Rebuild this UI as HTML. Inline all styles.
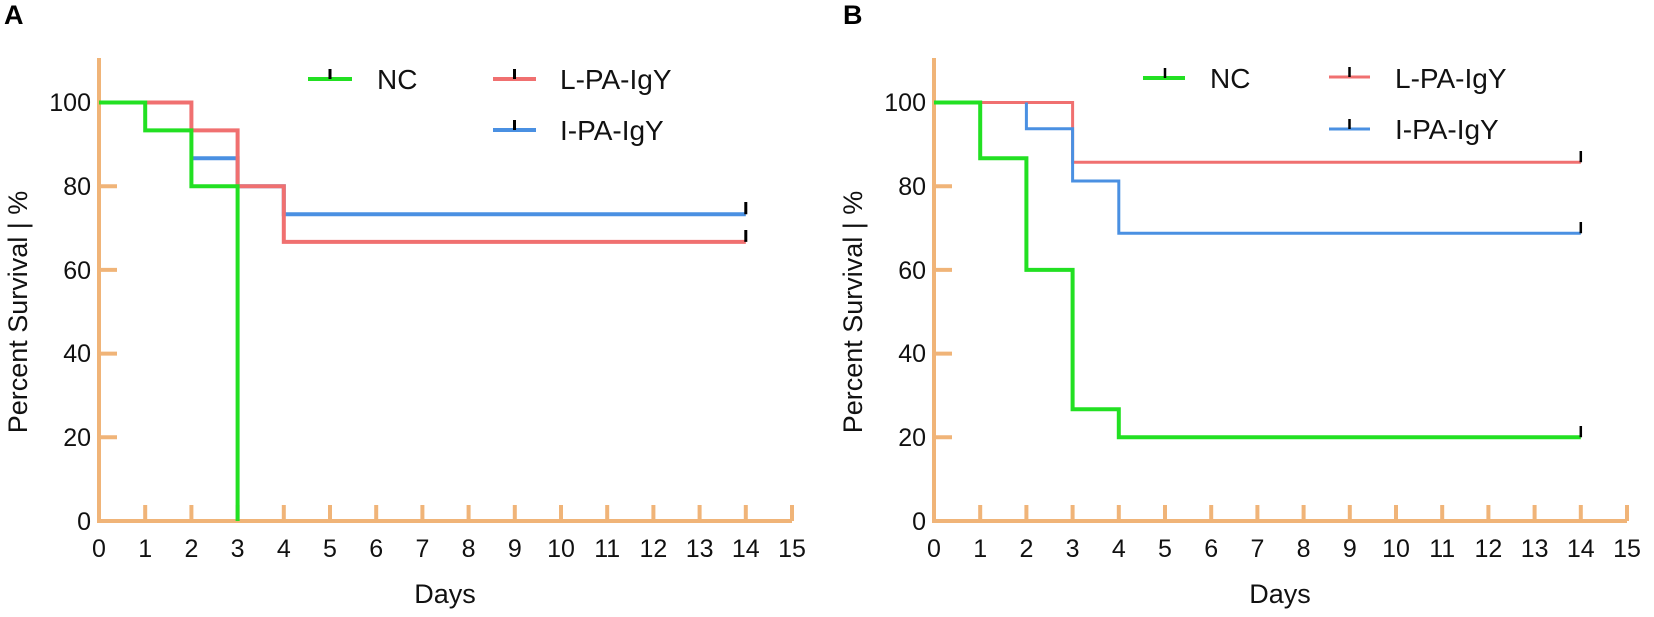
<!DOCTYPE html>
<html><head><meta charset="utf-8"><style>
html,body{margin:0;padding:0;background:#fff;}
svg{display:block;font-family:"Liberation Sans",Arial,sans-serif;}
</style></head><body>
<svg width="1654" height="617" viewBox="0 0 1654 617" xmlns="http://www.w3.org/2000/svg">
<defs>
<g id="axes">
  <g stroke="#f0b478" stroke-width="4" fill="none">
    <line x1="0" y1="58" x2="0" y2="523"/>
    <line x1="-2" y1="521" x2="693" y2="521"/>
    <line x1="0" y1="102.5" x2="18" y2="102.5"/>
    <line x1="0" y1="186.2" x2="18" y2="186.2"/>
    <line x1="0" y1="269.9" x2="18" y2="269.9"/>
    <line x1="0" y1="353.6" x2="18" y2="353.6"/>
    <line x1="0" y1="437.3" x2="18" y2="437.3"/>
    <path d="M46.2 521V505M92.4 521V505M138.6 521V505M184.8 521V505M231 521V505M277.2 521V505M323.4 521V505M369.6 521V505M415.8 521V505M462 521V505M508.2 521V505M554.4 521V505M600.6 521V505M646.8 521V505M693 521V505"/>
  </g>
  <g font-size="25" fill="#111" text-anchor="end">
    <text x="-8" y="111">100</text>
    <text x="-8" y="195">80</text>
    <text x="-8" y="279">60</text>
    <text x="-8" y="362">40</text>
    <text x="-8" y="446">20</text>
    <text x="-8" y="530">0</text>
  </g>
  <g font-size="25" fill="#111" text-anchor="middle">
    <text x="0" y="557">0</text><text x="46.2" y="557">1</text><text x="92.4" y="557">2</text><text x="138.6" y="557">3</text><text x="184.8" y="557">4</text><text x="231" y="557">5</text><text x="277.2" y="557">6</text><text x="323.4" y="557">7</text><text x="369.6" y="557">8</text><text x="415.8" y="557">9</text><text x="462" y="557">10</text><text x="508.2" y="557">11</text><text x="554.4" y="557">12</text><text x="600.6" y="557">13</text><text x="646.8" y="557">14</text><text x="693" y="557">15</text>
    <text x="346" y="603" font-size="27">Days</text>
    <text transform="translate(-72,312) rotate(-90)" font-size="27">Percent Survival | %</text>
  </g>
</g>
</defs>

<!-- Panel A -->
<text x="4" y="24" font-size="27" font-weight="bold" fill="#000">A</text>
<g transform="translate(99,0)">
  <use href="#axes"/>
  <path d="M92.4 158.3H138.6V186.2H184.8V214.3H646.8" stroke="#4a90e2" stroke-width="4" fill="none"/>
  <path d="M0 102.5H92.4V130.4H138.6V186.2H184.8V241.9H646.8" stroke="#f07070" stroke-width="4" fill="none"/>
  <path d="M0 102.5H46.2V130.4H92.4V186.2H138.6V521" stroke="#22e022" stroke-width="4" fill="none"/>
  <path d="M646.8 241.9V230M646.8 214.3V202" stroke="#000" stroke-width="3"/>
  <g stroke-width="4">
    <line x1="209" y1="79" x2="253" y2="79" stroke="#22e022"/>
    <line x1="394" y1="79" x2="437" y2="79" stroke="#f07070"/>
    <line x1="394" y1="130" x2="437" y2="130" stroke="#4a90e2"/>
  </g>
  <path d="M231 79V69M415.5 79V69M415.5 130V120" stroke="#000" stroke-width="3"/>
  <g font-size="28" fill="#111">
    <text x="278" y="89">NC</text>
    <text x="461" y="89">L-PA-IgY</text>
    <text x="461" y="140">I-PA-IgY</text>
  </g>
</g>

<!-- Panel B -->
<text x="843" y="24" font-size="27" font-weight="bold" fill="#000">B</text>
<g transform="translate(934,0)">
  <use href="#axes"/>
  <path d="M0 102.5H138.6V162.3H646.8" stroke="#f07070" stroke-width="3" fill="none"/>
  <path d="M92.4 102.5V128.7H138.6V181H184.8V233.3H646.8" stroke="#4a90e2" stroke-width="3" fill="none"/>
  <path d="M0 102.5H46.2V158.3H92.4V269.9H138.6V409.3H184.8V437.3H646.8" stroke="#22e022" stroke-width="4" fill="none"/>
  <path d="M646.8 162.3V151M646.8 233.3V222M646.8 437.3V426" stroke="#000" stroke-width="2.5"/>
  <g stroke-width="4">
    <line x1="209" y1="78" x2="251" y2="78" stroke="#22e022"/>
    <line x1="395" y1="77" x2="436" y2="77" stroke="#f07070" stroke-width="3"/>
    <line x1="395" y1="129" x2="436" y2="129" stroke="#4a90e2" stroke-width="3"/>
  </g>
  <path d="M231 78V68M415.5 77V67M415.5 129V119" stroke="#000" stroke-width="2.5"/>
  <g font-size="28" fill="#111">
    <text x="276" y="88">NC</text>
    <text x="461" y="88">L-PA-IgY</text>
    <text x="461" y="139">I-PA-IgY</text>
  </g>
</g>
</svg>
</body></html>
